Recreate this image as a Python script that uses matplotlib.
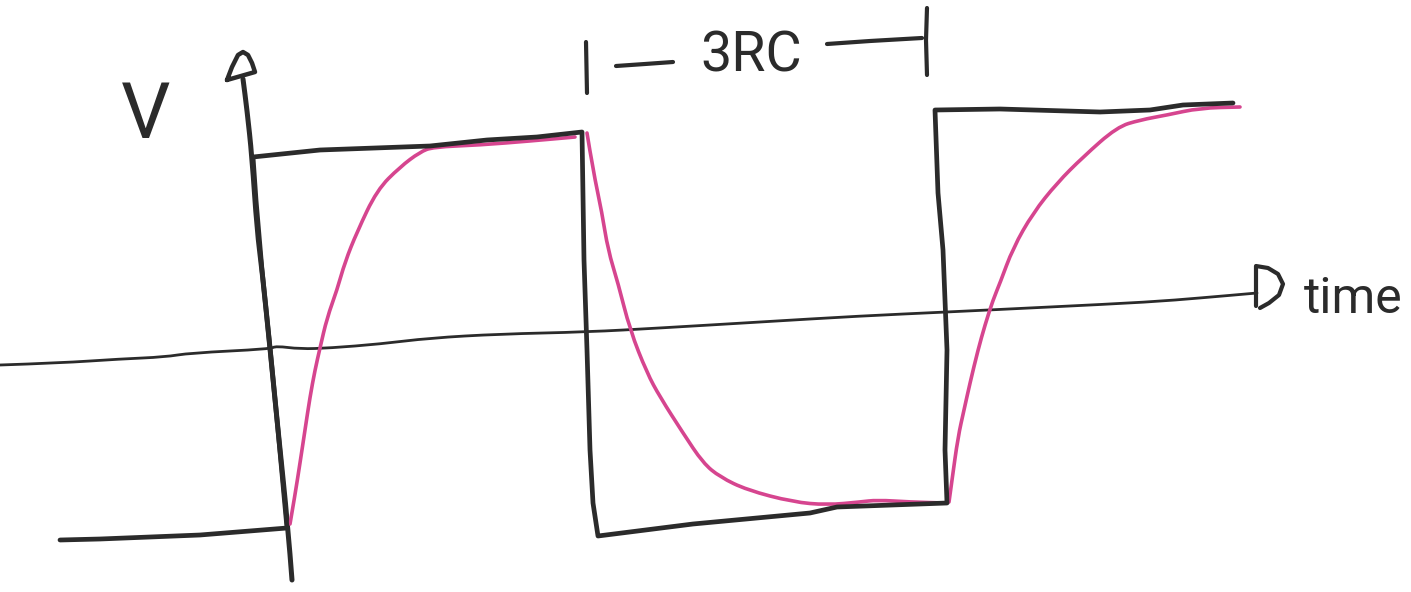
import numpy as np
import matplotlib.pyplot as plt
from matplotlib.path import Path
from matplotlib.patches import PathPatch

# sketch coordinates (pixel space, y grows downward)
# square-wave input
square_x = [60, 100, 200, 287, 278, 270, 262, 256, 253, 320, 430, 487, 537, 582,
            584, 587, 590, 593, 598, 693, 810, 837, 947, 945, 947, 943, 938, 935,
            1000, 1100, 1150, 1183, 1233]
square_y = [540, 539, 535, 528, 430, 348, 270, 200, 157, 150, 146, 140, 137, 132,
            260, 350, 450, 503, 536, 524, 513, 507, 503, 450, 350, 250, 193, 110,
            109, 112, 110, 105, 103]

# capacitor voltage response, one stroke per edge
rise1_x = [290, 295, 300, 305, 310, 315, 320, 327, 337, 345, 357, 377, 400, 420, 433,
           480, 530, 575]
rise1_y = [524, 495, 463, 430, 397, 370, 348, 318, 290, 262, 232, 190, 167, 152, 147,
           145, 141, 137]
fall_x = [587, 593, 602, 608, 618, 630, 647, 660, 683, 703, 720, 747, 793, 827, 860,
          877, 910, 945]
fall_y = [133, 170, 213, 250, 283, 330, 373, 397, 433, 463, 477, 490, 502, 505, 502,
          500, 502, 503]
rise2_x = [949, 952, 958, 964, 970, 978, 985, 993, 1000, 1013, 1033, 1057, 1083, 1117,
           1140, 1167, 1200, 1240]
rise2_y = [502, 480, 437, 410, 383, 350, 325, 300, 283, 248, 213, 183, 157, 127, 120,
           115, 108, 107]

# axes
vaxis_x = [292, 288, 278, 270, 262, 257, 252, 247, 243]
vaxis_y = [580, 527, 430, 348, 270, 230, 157, 110, 79]
vhead_x = [227, 232, 238, 243, 248, 252, 255, 227]
vhead_y = [80, 67, 55, 52, 55, 63, 72, 80]

taxis_x = [0, 60, 120, 165, 190, 270, 276, 300, 330, 380, 430, 500, 587, 660, 760, 860,
           947, 1050, 1150, 1200, 1257]
taxis_y = [365, 363, 359, 357, 353, 349, 346, 349, 348, 344, 338, 334, 332, 328, 322,
           316, 312, 307, 302, 298, 293]
thead_x = [1256, 1256, 1268, 1278, 1283, 1279, 1269, 1260]
thead_y = [306, 266, 268, 274, 284, 295, 303, 308]

# 3RC span marker
span_left_x, span_left_y = [586, 587], [42, 93]
span_dash1_x, span_dash1_y = [616, 645, 673], [66, 64, 62]
span_dash2_x, span_dash2_y = [827, 870, 922], [44, 41, 38]
span_right_x, span_right_y = [927, 926, 927], [8, 40, 75]

INK = '#2b2b2b'
PINK = '#d6458f'


def smooth_stroke(ax, xs, ys, **kw):
    # quadratic bezier through the midpoints, the points themselves as controls
    pts = np.column_stack([xs, ys]).astype(float)
    verts = [pts[0]]
    codes = [Path.MOVETO]
    for i in range(1, len(pts) - 1):
        mid = (pts[i] + pts[i + 1]) / 2
        verts += [pts[i], mid]
        codes += [Path.CURVE3, Path.CURVE3]
    verts.append(pts[-1])
    codes.append(Path.LINETO)
    patch = PathPatch(Path(verts, codes), facecolor='none', capstyle='round',
                      joinstyle='round', **kw)
    ax.add_patch(patch)


fig = plt.figure(figsize=(14.11, 5.92), dpi=100)
ax = fig.add_axes([0, 0, 1, 1])
ax.set_xlim(0, 1411)
ax.set_ylim(592, 0)
ax.axis('off')

pen = dict(solid_capstyle='round', solid_joinstyle='round')

smooth_stroke(ax, taxis_x, taxis_y, edgecolor=INK, lw=2.0)
ax.plot(thead_x, thead_y, color=INK, lw=3.0, **pen)
smooth_stroke(ax, vaxis_x, vaxis_y, edgecolor=INK, lw=3.6)
ax.plot(vhead_x, vhead_y, color=INK, lw=3.2, **pen)

ax.plot(square_x, square_y, color=INK, lw=3.4, **pen)

for xs, ys in [(rise1_x, rise1_y), (fall_x, fall_y), (rise2_x, rise2_y)]:
    smooth_stroke(ax, xs, ys, edgecolor=PINK, lw=2.6)

for xs, ys in [(span_left_x, span_left_y), (span_dash1_x, span_dash1_y),
               (span_dash2_x, span_dash2_y), (span_right_x, span_right_y)]:
    ax.plot(xs, ys, color=INK, lw=3.0, **pen)

txt = dict(color=INK, family=['Roboto', 'DejaVu Sans'], fontweight='normal')
ax.text(751, 56, '3RC', fontsize=40, ha='center', va='center', **txt)
ax.text(146, 116, 'V', fontsize=56, ha='center', va='center', **txt)
ax.text(1353, 313, 'time', fontsize=36, ha='center', va='baseline', **txt)

fig.savefig('out.png', dpi=100, facecolor='white')
